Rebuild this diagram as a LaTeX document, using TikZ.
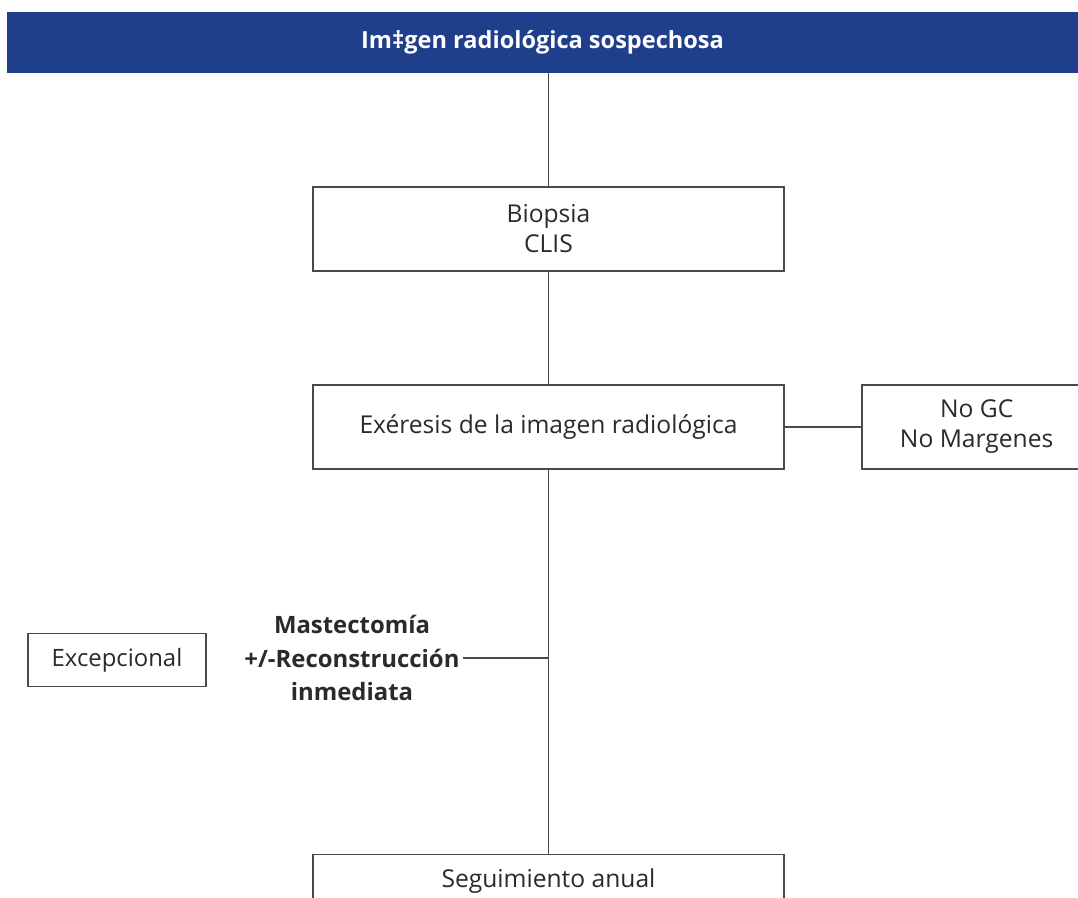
\documentclass[tikz,border=0pt]{standalone}
\usepackage{fontspec}
\setmainfont{Open Sans}
\usetikzlibrary{positioning}
\definecolor{headblue}{HTML}{1F3F8B}
\definecolor{linegray}{HTML}{4A4A4A}
\definecolor{textgray}{HTML}{2A2A2A}

\begin{document}
\begin{tikzpicture}[
        x=0.02cm, y=-0.02cm,
        node distance=1cm,
        box/.style={draw=linegray, line width=1pt, fill=white, align=center, text=textgray, font=\fontsize{14}{17}\selectfont, minimum width=9.42cm, minimum height=1.68cm, inner sep=0pt},
        sidebox/.style={box, minimum width=4.6cm},
        link/.style={draw=linegray, line width=1pt}
    ]
    \useasboundingbox (0,0) rectangle (1078,897);
    \clip (0,0) rectangle (1078,897);

    % --- Header ---
    \node[fill=headblue, text=white, minimum width=21.42cm, minimum height=1.22cm, inner sep=0pt, font=\bfseries\fontsize{13.4}{17}\selectfont] (header) at (542.5,42.5) {Im‡gen radiológica sospechosa};

    % --- Main column ---
    \node[box] (biopsia) at (548.5,229) {Biopsia\\CLIS};
    \node[box, below=2.24cm of biopsia] (exeresis) {Exéresis de la imagen radiológica};
    \node[sidebox, right=1.52cm of exeresis] (nogc) {No GC\\No Margenes};
    \node[box, minimum height=1.08cm, below=7.68cm of exeresis] (seguimiento) {Seguimiento anual};

    % --- Side branch ---
    \node[font=\bfseries\fontsize{13.6}{19}\selectfont, text=textgray, align=center, inner sep=2pt] (mast) at (352,658) {Mastectomía\\+/-Reconstrucción\\inmediata};
    \node[box, minimum width=3.56cm, minimum height=1.06cm, font=\fontsize{13.6}{17}\selectfont] (excep) at (117,660) {Excepcional};

    % --- Connections ---
    \draw[link] (header.south -| biopsia.north) -- (biopsia.north);
    \draw[link] (biopsia) -- (exeresis);
    \draw[link] (exeresis) -- (nogc);
    \draw[link] (exeresis) -- (seguimiento);
    \draw[link] (mast.east) -- (mast.east -| exeresis.south);

\end{tikzpicture}
\end{document}
